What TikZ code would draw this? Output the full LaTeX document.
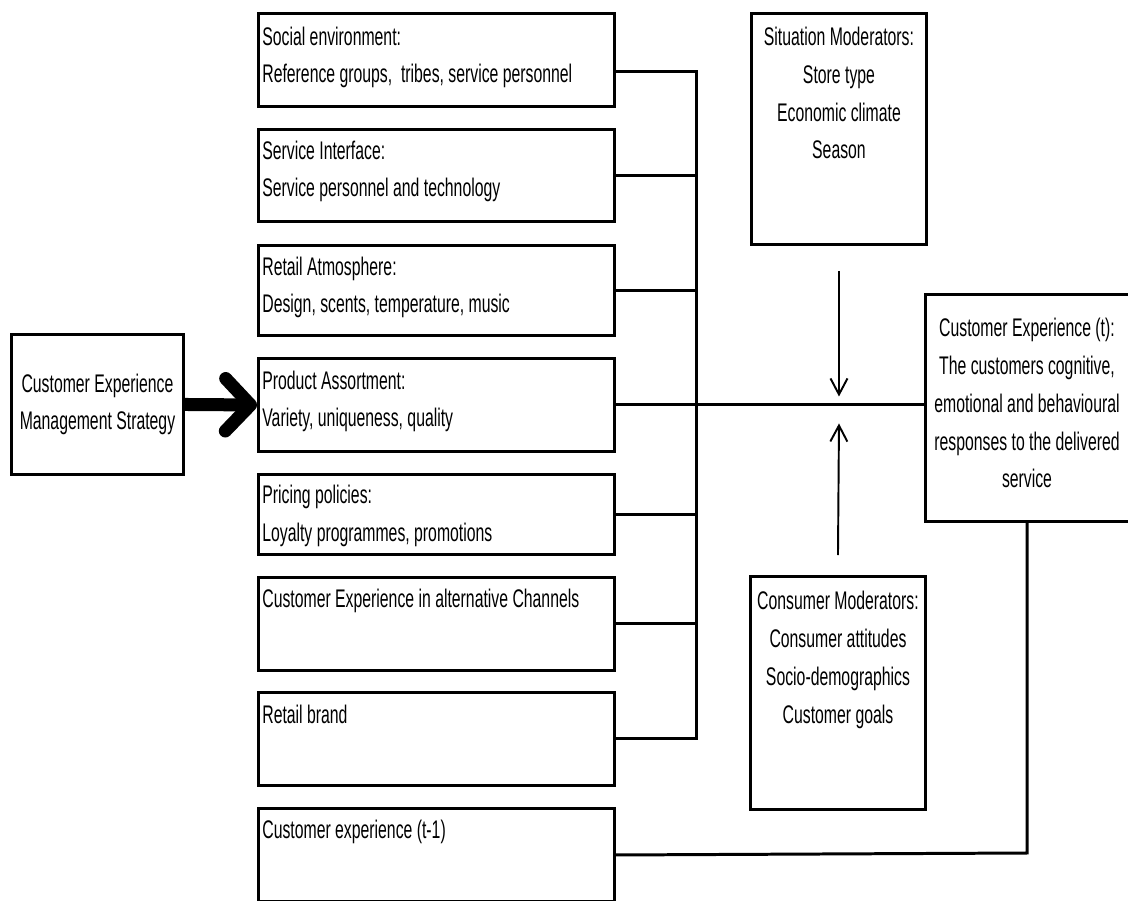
\documentclass[tikz,border=0pt]{standalone}
\usepackage{fontspec}
\setmainfont[FakeStretch=0.62]{Liberation Sans}
\usepackage{tikz}
\usetikzlibrary{positioning,arrows.meta}

\begin{document}
\begin{tikzpicture}[x=0.02cm, y=-0.02cm,
    font=\fontsize{14.5}{21.5}\selectfont,
    box/.style={draw, line width=1.7pt, inner sep=0pt, anchor=north west},
    factor/.style={box, minimum width=7.12cm, minimum height=1.86cm},
    moderator/.style={box, minimum width=3.5cm},
    lbl/.style={inner sep=0pt, align=left, anchor=base west},
    clbl/.style={inner sep=0pt, align=center, anchor=base},
    link/.style={line width=1.7pt},
    thinarrow/.style={line width=1.1pt, -{Straight Barb[length=0.32cm, width=0.34cm]}}]

    \useasboundingbox (0,0) rectangle (1128,901);

    % strategy
    \node[box, minimum width=3.44cm, minimum height=2.8cm, align=center] (cem) at (10,333)
        {Customer Experience\\Management Strategy};

    % factors
    \node[factor] (soc) at (257,12) {};
    \node[factor, minimum height=1.84cm] (sif) at (257,128) {};
    \node[factor, minimum height=1.8cm] (atm) at (257,244) {};
    \node[factor] (pro) at (257,357) {};
    \node[factor, minimum height=1.6cm] (pri) at (257,473) {};
    \node[factor] (alt) at (257,576) {};
    \node[factor] (brd) at (257,691) {};
    \node[factor] (prv) at (257,807) {};

    % (base = last line)
    \node[lbl] (socT) at (262,83) {Social environment:\\Reference groups, \ tribes, service personnel};
    \node[lbl] (sifT) at (262,197) {Service Interface:\\Service personnel and technology};
    \node[lbl] (atmT) at (262,313) {Retail Atmosphere:\\Design, scents, temperature, music};
    \node[lbl] (proT) at (262,427) {Product Assortment:\\Variety, uniqueness, quality};
    \node[lbl] (priT) at (262,541) {Pricing policies:\\Loyalty programmes, promotions};
    \node[lbl] (altT) at (262,607) {Customer Experience in alternative Channels};
    \node[lbl] (brdT) at (262,723) {Retail brand};
    \node[lbl] (prvT) at (262,838) {Customer experience (t-1)};

    % moderators
    \node[moderator, minimum height=4.62cm] (sit) at (750,12) {};
    \node[clbl] (sitT) at (sit.north |- 0,159)
        {Situation Moderators:\\Store type\\Economic climate\\Season};
    \node[moderator, minimum height=4.66cm] (con) at (749,575) {};
    \node[clbl] (conT) at (con.north |- 0,723)
        {Consumer Moderators:\\Consumer attitudes\\Socio-demographics\\Customer goals};

    % outcome
    \node[box, minimum width=4.32cm, minimum height=4.54cm] (cet) at (924,293) {};
    \node[clbl] (cetT) at (1027,488)
        {Customer Experience (t):\\The customers cognitive,\\emotional and behavioural\\responses to the delivered\\service};

    % connectors
    \coordinate (bus) at (696,0);
    \draw[link] ([yshift=-0.24cm]soc.east) -| (brd.east -| bus) -- (brd.east);
    \foreach \b in {sif,atm,pri,alt}
        \draw[link] (\b.east) -- (\b.east -| bus);
    \draw[link] (pro.east) -- (pro.east -| cet.west);

    \coordinate (meet) at (pro.east -| sit.south);
    \draw[thinarrow] ([yshift=-0.5cm]sit.south) -- ([yshift=0.17cm]meet);
    \draw[thinarrow] ([yshift=0.4cm]con.north) -- ([yshift=-0.37cm]meet);

    \coordinate (turn) at (1027,853);
    \draw[link] (prv.east) -- (turn) -- (turn |- cet.south);

    % big arrow
    \draw[line width=7.4pt, -{Straight Barb[length=0.5cm, width=1.05cm, round]}] (cem.east) -- (pro.west);
\end{tikzpicture}
\end{document}
